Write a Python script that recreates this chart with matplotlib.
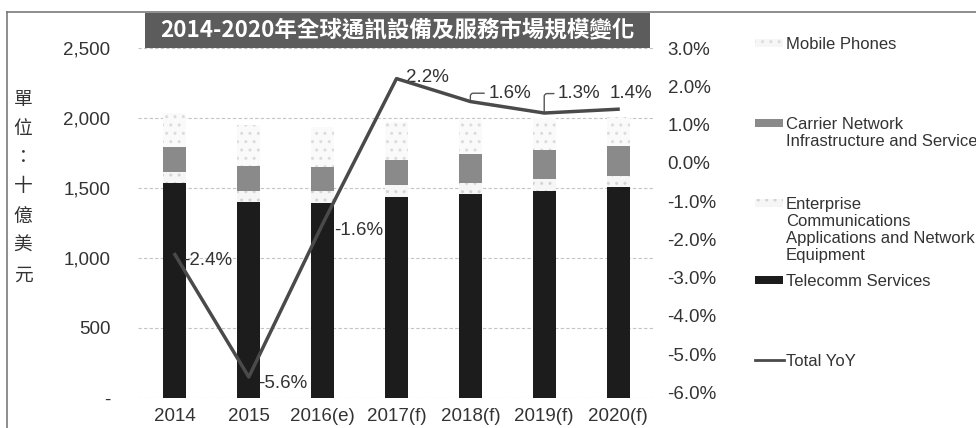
import numpy as np
import matplotlib
matplotlib.use("Agg")
import matplotlib.pyplot as plt
from matplotlib.patches import Rectangle
from matplotlib.lines import Line2D

# data (USD billions, YoY %)
years = ["2014", "2015", "2016(e)", "2017(f)", "2018(f)", "2019(f)", "2020(f)"]
telecomm = [1536, 1400, 1393, 1436, 1457, 1479, 1507]
enterprise = [78, 79, 86, 85, 79, 85, 79]
carrier = [179, 178, 171, 179, 207, 207, 214]
mobile = [243, 293, 286, 271, 243, 229, 207]
yoy = [-2.4, -5.6, -1.6, 2.2, 1.6, 1.3, 1.4]
yoy_labels = ["-2.4%", "-5.6%", "-1.6%", "2.2%", "1.6%", "1.3%", "1.4%"]

left_ticks = [0, 500, 1000, 1500, 2000, 2500]
left_ticklabels = ["-", "500", "1,000", "1,500", "2,000", "2,500"]
right_ticks = [-6, -5, -4, -3, -2, -1, 0, 1, 2, 3]

title = "2014-2020年全球通訊設備及服務市場規模變化"
unit_chars = ["單", "位", "：", "十", "億", "美", "元"]

TXT = "#333333"
W, H = 976, 428

plt.rcParams["font.family"] = ["Liberation Sans", "DejaVu Sans"]

fig = plt.figure(figsize=(W / 100, H / 100), dpi=100)


def fx(x):
    return x / W


def fy(y):
    return 1 - y / H


ax = fig.add_axes([fx(138), fy(398), 517 / W, 350 / H])
x = np.arange(len(years))
bw = 0.31

bottom = np.zeros(len(years))
ax.bar(x, telecomm, bw, bottom=bottom, color="#1c1c1c", linewidth=0, zorder=3)
bottom += telecomm
ax.bar(x, enterprise, bw, bottom=bottom, facecolor="#f6f6f6", edgecolor="#d4d4d4",
       hatch="..", linewidth=0, zorder=3)
bottom += enterprise
ax.bar(x, carrier, bw, bottom=bottom, color="#8a8a8a", linewidth=0, zorder=3)
bottom += carrier
ax.bar(x, mobile, bw, bottom=bottom, facecolor="#fafafa", edgecolor="#dcdcdc",
       hatch="..", linewidth=0, zorder=3)

ax.set_xlim(-0.5, len(years) - 0.5)
ax.set_ylim(0, 2500)
ax.set_yticks(left_ticks)
ax.set_yticklabels(left_ticklabels)
ax.set_xticks(x)
ax.set_xticklabels(years)
ax.tick_params(axis="y", length=0, pad=20, labelsize=13.5, labelcolor=TXT)
ax.tick_params(axis="x", length=0, pad=7, labelsize=13.5, labelcolor=TXT)
ax.yaxis.grid(True, linestyle=(0, (3, 2)), color="#c4c4c4", linewidth=0.8, zorder=0)
for s in ax.spines.values():
    s.set_visible(False)

# YoY line on the right axis
ax2 = ax.twinx()
ax2.plot(x, yoy, color="#4a4a4a", linewidth=2.5, zorder=5)
ax2.set_ylim(-6.15, 3.0)
ax2.set_yticks(right_ticks)
ax2.set_yticklabels([f"{v:.1f}%" for v in right_ticks])
ax2.tick_params(axis="y", length=0, pad=9, labelsize=13.5, labelcolor=TXT)
for s in ax2.spines.values():
    s.set_visible(False)

# point labels (offsets in points, some with leader lines)
offsets = [(6, -4), (7, -5), (8, -5), (7, 1), (13, 6), (10, 14), (-6, 11)]
leaders = [False, False, False, False, True, True, False]
for i in range(len(yoy)):
    dx, dy = offsets[i]
    if leaders[i]:
        ax2.annotate(yoy_labels[i], (x[i], yoy[i]), xytext=(dx, dy),
                     textcoords="offset points", ha="left", va="center",
                     fontsize=13.5, color=TXT,
                     arrowprops=dict(arrowstyle="-", color="#555555", lw=1,
                                     relpos=(0, 0.5), shrinkA=1, shrinkB=0,
                                     connectionstyle="angle,angleA=180,angleB=90,rad=3"))
    else:
        ax2.annotate(yoy_labels[i], (x[i], yoy[i]), xytext=(dx, dy),
                     textcoords="offset points", ha="left", va="center",
                     fontsize=13.5, color=TXT)

# outer frame
fig.add_artist(Line2D([fx(7), fx(7)], [0, fy(12)], color="#7a7a7a", lw=1.2))
fig.add_artist(Line2D([fx(7), 1], [fy(12), fy(12)], color="#7a7a7a", lw=1.2))

# title box
fig.add_artist(Rectangle((fx(145), fy(48)), 505 / W, 35 / H,
                         facecolor="#5c5c5c", edgecolor="none", transform=fig.transFigure))
fig.text(fx(397), fy(30), title, color="white", fontsize=16.2, fontweight="bold",
         ha="center", va="center", family=["Noto Sans CJK TC", "DejaVu Sans"])

# unit label on the left
for k, ch in enumerate(unit_chars):
    fig.text(fx(23), fy(99 + k * 29.3), ch, fontsize=13.5, color=TXT,
             ha="center", va="center", family=["Noto Sans CJK TC", "DejaVu Sans"])

# legend on the right
legend_items = [
    ("Mobile Phones", "patch", dict(facecolor="#f6f6f6", edgecolor="#dcdcdc", hatch="..")),
    ("Carrier Network\nInfrastructure and Service", "patch", dict(facecolor="#8a8a8a")),
    ("Enterprise\nCommunications\nApplications and Network\nEquipment", "patch",
     dict(facecolor="#f6f6f6", edgecolor="#d4d4d4", hatch="..")),
    ("Telecomm Services", "patch", dict(facecolor="#1c1c1c")),
    ("Total YoY", "line", dict(color="#4a4a4a")),
]
leg_y = [43, 123, 203, 280, 360]
for (label, kind, style), yy in zip(legend_items, leg_y):
    if kind == "patch":
        fig.add_artist(Rectangle((fx(755), fy(yy + 4)), 28 / W, 8 / H, linewidth=0,
                                 transform=fig.transFigure, **style))
    else:
        fig.add_artist(Line2D([fx(755), fx(784)], [fy(yy), fy(yy)], lw=2, **style))
    fig.text(fx(786), fy(yy - 6), label, fontsize=12, color=TXT,
             ha="left", va="top", linespacing=1.18)

fig.savefig("out.png", dpi=100)
